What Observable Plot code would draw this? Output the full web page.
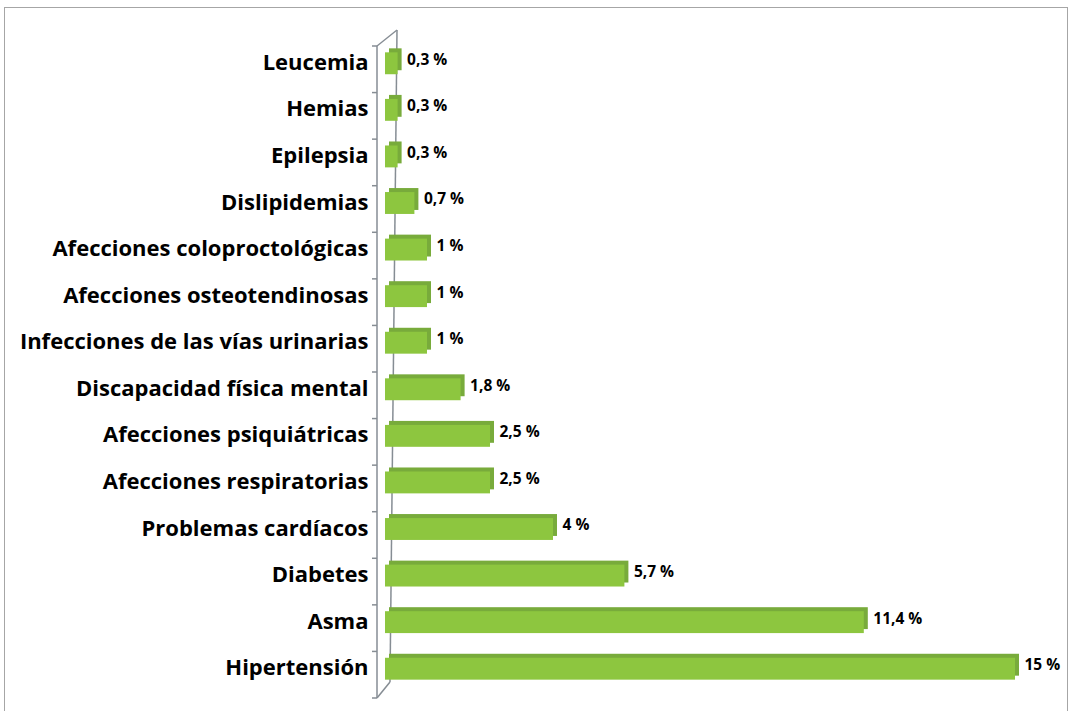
<!DOCTYPE html>
<html><head><meta charset="utf-8">
<script src="https://cdn.jsdelivr.net/npm/d3@7"></script>
<script src="https://cdn.jsdelivr.net/npm/@observablehq/plot@0.6"></script>
<style>
body{margin:0;background:#fff;}
#wrap{position:relative;width:1069px;height:711px;overflow:hidden;}
#border{position:absolute;left:4px;top:7px;width:1064px;height:720px;border:1.5px solid #a6a6a6;box-sizing:border-box;pointer-events:none;}
#chart{position:absolute;left:0;top:0;}
</style></head><body>
<div id="wrap"><div id="chart"></div><div id="border"></div></div>
<script>
const categories = ["Leucemia","Hemias","Epilepsia","Dislipidemias","Afecciones coloproctológicas","Afecciones osteotendinosas","Infecciones de las vías urinarias","Discapacidad física mental","Afecciones psiquiátricas","Afecciones respiratorias","Problemas cardíacos","Diabetes","Asma","Hipertensión"];
const values = [0.3,0.3,0.3,0.7,1,1,1,1.8,2.5,2.5,4,5.7,11.4,15];
const valueLabels = ["0,3 %","0,3 %","0,3 %","0,7 %","1 %","1 %","1 %","1,8 %","2,5 %","2,5 %","4 %","5,7 %","11,4 %","15 %"];
const xDomain = [0, 15];

const data = categories.map((c,i)=>({cat:c, value:values[i], label:valueLabels[i]}));
const font = "'Open Sans', 'DejaVu Sans', sans-serif";

const plot = Plot.plot({
  width:1069, height:711,
  marginLeft:385, marginRight:54, marginTop:40, marginBottom:19,
  x:{domain:xDomain, axis:null},
  y:{domain:categories, axis:null, paddingInner:0.53, paddingOuter:0.265, round:false},
  style:{fontFamily:font, background:"transparent"},
  marks:[
    Plot.barX(data,{x:"value", y:"cat", fill:"#78ab3b", dx:4, dy:-4}),
    Plot.barX(data,{x:"value", y:"cat", fill:"#8dc63f"}),
    Plot.text(data,{x:0, y:"cat", text:"cat", textAnchor:"end", dx:-17, dy:-1, fontSize:22, fontWeight:"bold", fill:"#000"}),
    Plot.text(data,{x:"value", y:"cat", text:"label", textAnchor:"start", dx:9, dy:-4, fontSize:15.5, fontWeight:"bold", fill:"#000"})
  ]
});

// 3D axis wall drawn from the plot's own scales
const xs = plot.scale("x"), ys = plot.scale("y");
const x0 = xs.apply(0);
const bw = ys.bandwidth;
const centers = categories.map(c => ys.apply(c) + bw/2);
const step = centers[1] - centers[0];
const bounds = centers.map(c => c - step/2 + 6);
bounds.push(centers[centers.length-1] + step/2 + 6);
const b0 = bounds[0], bN = bounds[bounds.length-1];
const fx = x0 - 8, bxTop = x0 + 12, bxBot = x0 + 5, depth = 16;
const segs = [
  [fx, b0, fx, bN],
  [bxTop, b0-depth, bxBot, bN-depth],
  [fx, b0, bxTop, b0-depth],
  [fx, bN, bxBot, bN-depth],
  ...bounds.map(b => [fx-5, b, fx, b])
];
const g = d3.select(plot).insert("g", "g");
g.selectAll("line").data(segs).join("line")
  .attr("x1", d=>d[0]).attr("y1", d=>d[1]).attr("x2", d=>d[2]).attr("y2", d=>d[3])
  .attr("stroke", "#868d94").attr("stroke-width", 1.5);

document.getElementById("chart").appendChild(plot);
</script>
</body></html>
